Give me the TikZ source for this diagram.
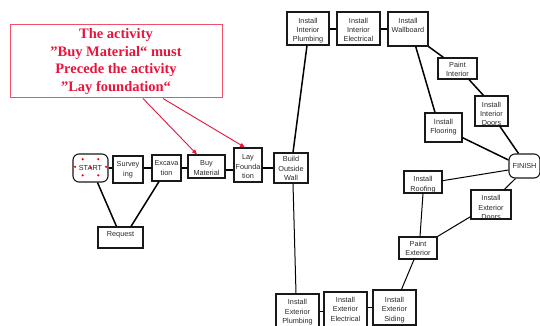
\documentclass[tikz,border=0pt]{standalone}
\usepackage{fontspec}
\setmainfont{Liberation Sans}
\newfontfamily\notefont{Liberation Serif}
\usetikzlibrary{arrows.meta,calc}

\definecolor{notered}{RGB}{232,20,60}
\definecolor{noteframe}{RGB}{240,80,105}
\definecolor{inkgray}{RGB}{40,40,40}

% activity text: lines stacked, baseline on the first line
\newcommand{\actlines}[1]{\begin{tabular}[t]{@{}c@{}}#1\end{tabular}}
\newcommand{\actfont}{\fontsize{7.3}{9.3}\selectfont}

\tikzset{
  act/.style={draw=black!90, line width=1.1pt, inner sep=0pt, anchor=base,
              font=\actfont, text=inkgray},
  endpoint/.style={act, rounded corners=6pt},
  dims/.style n args={3}{minimum width=#1pt, text height=#2pt, text depth=#3pt},
  link/.style={line width=1.5pt, black},
  thinlink/.style={line width=1pt, black},
  hint/.style={draw=notered, line width=0.9pt,
               -{Triangle[length=5pt,width=4pt]}},
  handle/.style={circle, fill=red!90!black, inner sep=0pt, minimum size=2.4pt}
}

\begin{document}
\begin{tikzpicture}[x=1pt,y=-1pt]
\useasboundingbox (0,0) rectangle (540,326);

% explanatory note
\node (note) [draw=noteframe, line width=1pt, minimum width=212pt, minimum height=73pt,
      inner sep=0pt, align=center, text=notered,
      font=\notefont\bfseries\fontsize{14.5}{17.4}\selectfont] at (116,61.5)
  {The activity\\”Buy Material“ must\\Precede the activity\\”Lay foundation“};

% left chain
\node (start) [endpoint, dims={35}{16.4}{11.6}] at (90.5,170.4) {\actlines{START}};
\node (surv)  [act, dims={30}{10.9}{16.1}] at (128,166.9)   {\actlines{Survey\\ing}};
\node (exc)   [act, dims={29}{10.9}{15.1}] at (166.5,165.9) {\actlines{Excava\\tion}};
\node (buy)   [act, dims={37}{10.9}{12.1}] at (206.5,165.9) {\actlines{Buy\\Material}};
\node (lay)   [act, dims={28}{11.9}{22.1}] at (248,159.9)   {\actlines{Lay\\Founda\\tion}};
\node (build) [act, dims={34}{8.9}{21.1}]  at (291,161.9)   {\actlines{Build\\Outside\\Wall}};
\node (req)   [act, dims={45}{9.9}{11.1}]  at (120.5,236.9) {\actlines{Request}};

% interior branch
\node (iplumb) [act, dims={42}{11.3}{21.7}] at (308,23.3)   {\actlines{Install\\Interior\\Plumbing}};
\node (ielec)  [act, dims={43}{11.3}{21.7}] at (358.5,23.3) {\actlines{Install\\Interior\\Electrical}};
\node (wall)   [act, dims={40}{11.3}{22.7}] at (408,23.3)   {\actlines{Install\\Wallboard}};
\node (pint)   [act, dims={39}{9.6}{11.4}]  at (457.5,67.6) {\actlines{Paint\\Interior}};
\node (idoors) [act, dims={33}{11.3}{18.7}] at (491.5,107.3) {\actlines{Install\\Interior\\Doors}};
\node (floor)  [act, dims={37}{11.3}{17.7}] at (443.5,124.3) {\actlines{Install\\Flooring}};

% finish
\node (finish) [endpoint, dims={31}{14.7}{9.3}] at (524.5,168.7) {\actlines{FINISH}};

% exterior branch
\node (roof)    [act, dims={38}{10.9}{11.1}] at (423,181.9)   {\actlines{Install\\Roofing}};
\node (edoors)  [act, dims={40}{10.9}{18.1}] at (491,200.9)   {\actlines{Install\\Exterior\\Doors}};
\node (pext)    [act, dims={38}{9.6}{12.4}]  at (418,246.6)   {\actlines{Paint\\Exterior}};
\node (eplumb)  [act, dims={43}{10.9}{23.1}] at (297.5,304.9) {\actlines{Install\\Exterior\\Plumbing}};
\node (eelec)   [act, dims={43}{10.6}{25.4}] at (345.5,302.6) {\actlines{Install\\Exterior\\Electrical}};
\node (esiding) [act, dims={43}{12.6}{22.4}] at (394.5,302.6) {\actlines{Install\\Exterior\\Siding}};

% selection handles on START
\foreach \dx/\dy [count=\i] in {-7.8/-8.8, 7.8/-8.8, -15.5/-1.2, 0.2/-0.4, 15.5/-1.2, -7.8/7.3, 7.8/7.3}
  \node (h\i) [handle] at ($(start.center)+(\dx,\dy)$) {};

% precedence hints
\draw[hint] ($(note.south)+(27,0)$) -- ($(buy.north)+(-9.5,0)$);
\draw[hint] ($(note.south)+(47,0)$) -- ($(lay.north)+(-3,0)$);

% left chain links
\draw[link] (start.east) -- (start.east -| surv.west);
\draw[link] (surv.east |- start.east) -- (exc.west |- start.east);
\draw[link] (exc.east |- start.east) -- (buy.west |- start.east);
\draw[link] ($(buy.east)+(0,3.5)$) -- ($(buy.east -| lay.west)+(0,3.5)$);
\draw[link] (lay.east |- start.east) -- (build.west |- start.east);
\draw[link] ($(start.south)+(7,0)$) -- ($(req.north)+(-4,0)$);
\draw[link] ($(exc.south)+(-7.5,0)$) -- ($(req.north)+(10.5,0)$);

% build outside wall to both branches
\draw[link] ($(build.north)+(2,0)$) -- ($(iplumb.south)+(-1,0)$);
\draw[thinlink] ($(build.south)+(2,0)$) -- ($(eplumb.north)+(-1.5,0)$);

% interior links
\draw[link] (iplumb.east |- wall.west) -- (ielec.west |- wall.west);
\draw[link] (ielec.east |- wall.west) -- (wall.west);
\draw[link] (wall.south east) -- ($(pint.north)+(-14,0)$);
\draw[link] ($(wall.south)+(7.7,0)$) -- ($(floor.north)+(-8.5,0)$);
\draw[link] ($(pint.south)+(11.5,0)$) -- ($(idoors.north)+(-8,0)$);
\draw[link] ($(idoors.south)+(8.5,0)$) -- ($(finish.north)+(-6,0)$);
\draw[link] ($(floor.east)+(0,10.2)$) -- ($(finish.west)+(0,-6)$);

% exterior links
\draw[thinlink] ($(roof.east)+(0,-1.3)$) -- ($(finish.west)+(0,4)$);
\draw[thinlink] ($(edoors.north)+(13.3,0)$) -- ($(finish.south)+(-9,0)$);
\draw[thinlink] (roof.south) -- ($(pext.north)+(2,0)$);
\draw[thinlink] ($(edoors.west)+(0,12.2)$) -- (pext.north east);
\draw[thinlink] ($(pext.south)+(-4,0)$) -- ($(esiding.north)+(7,0)$);
\draw[link] (esiding.west) -- (esiding.west -| eelec.east);
\draw[link] ($(eelec.west)+(0,1.5)$) -- ($(eelec.west -| eplumb.east)+(0,1.5)$);
\end{tikzpicture}
\end{document}
